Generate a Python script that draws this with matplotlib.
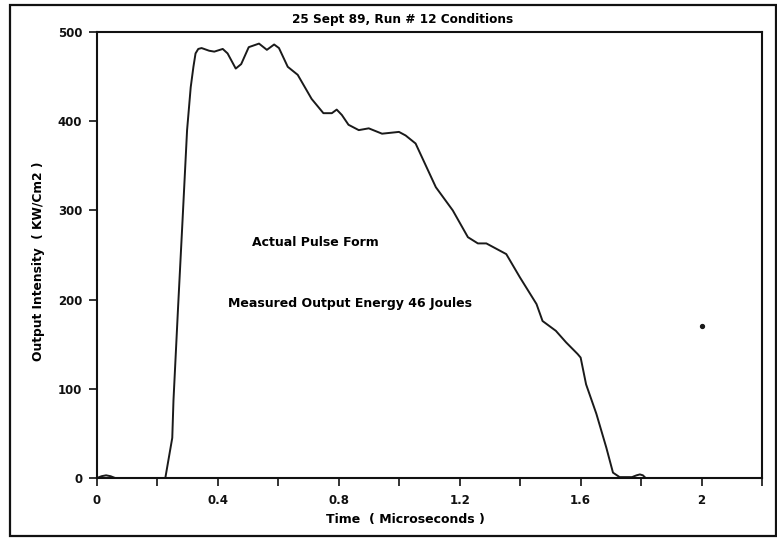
import matplotlib
matplotlib.use("Agg")
import matplotlib.pyplot as plt
from matplotlib.patches import Rectangle

plt.rcParams['font.family'] = ['DejaVu Sans']
plt.rcParams['font.weight'] = 'bold'

# ---- data ----
time_us = [0.0, 0.015, 0.03, 0.045, 0.06, 0.1, 0.2, 0.226, 0.249, 0.253,
           0.268, 0.283, 0.298, 0.31, 0.319, 0.326, 0.335, 0.346, 0.371, 0.388,
           0.416, 0.432, 0.459, 0.477, 0.502, 0.536, 0.562, 0.586, 0.602, 0.631,
           0.664, 0.71, 0.749, 0.777, 0.793, 0.81, 0.832, 0.866, 0.899, 0.943,
           0.999, 1.021, 1.054, 1.121, 1.177, 1.227, 1.26, 1.288, 1.354, 1.399,
           1.454, 1.474, 1.518, 1.552, 1.59, 1.6, 1.618, 1.652, 1.685, 1.707,
           1.729, 1.77, 1.785, 1.796, 1.806, 1.815, 1.827]
intensity = [0, 2, 3, 2, 0, 0, 0, 0, 45, 87,
             190, 289, 390, 438, 461, 476, 481, 482, 479, 478,
             481, 476, 459, 464, 483, 487, 480, 486, 482, 461,
             452, 425, 409, 409, 413, 407, 396, 390, 392, 386,
             388, 384, 375, 326, 300, 270, 263, 263, 251, 225,
             195, 176, 165, 152, 139, 135, 105, 72, 34, 6,
             1, 1, 3, 4, 3, 0, 0]
stray_point_t = [2.0]
stray_point_v = [170]

x_ticks = [0, 0.2, 0.4, 0.6, 0.8, 1.0, 1.2, 1.4, 1.6, 1.8, 2.0, 2.2]
x_tick_labels = ['0', '', '0.4', '', '0.8', '', '1.2', '', '1.6', '', '2', '']
y_ticks = [0, 100, 200, 300, 400, 500]
y_tick_labels = ['0', '100', '200', '300', '400', '500']

title = '25 Sept 89, Run # 12 Conditions'
x_label = 'Time  ( Microseconds )'
y_label = 'Output Intensity  ( KW/Cm2 )'
note1 = 'Actual Pulse Form'
note2 = 'Measured Output Energy 46 Joules'

# ---- figure ----
W, H = 777, 538
fig = plt.figure(figsize=(W / 100, H / 100), dpi=100)
fig.patch.set_facecolor('white')

def fx(px):
    return px / W

def fy(py):
    return 1 - py / H

ax = fig.add_axes([fx(97), fy(478), fx(762) - fx(97), fy(32) - fy(478)])
ax.plot(time_us, intensity, color='#1a1a1a', lw=1.4)
ax.plot(stray_point_t, stray_point_v, 'o', color='#1a1a1a', ms=2.8)

ax.set_xlim(0, 2.2)
ax.set_ylim(0, 500)
ax.set_xticks(x_ticks)
ax.set_xticklabels(x_tick_labels)
ax.set_yticks(y_ticks)
ax.set_yticklabels(y_tick_labels)
ax.tick_params(direction='out', length=5.5, width=1.2, labelsize=8.5, colors='#111111')
ax.tick_params(axis='x', pad=6)
ax.tick_params(axis='y', pad=5)
for lab in ax.get_xticklabels() + ax.get_yticklabels():
    lab.set_fontweight('bold')
for sp in ax.spines.values():
    sp.set_linewidth(1.5)
    sp.set_color('#111111')

fig.text(fx(403), fy(19), title, ha='center', va='center', fontsize=8.7, fontweight='bold')
fig.text(fx(405), fy(519), x_label, ha='center', va='center', fontsize=9, fontweight='bold')
fig.text(fx(39), fy(261), y_label, ha='center', va='center', rotation=90, fontsize=8.8,
         fontweight='bold')
fig.text(fx(252), fy(243), note1, ha='left', va='center', fontsize=9, fontweight='bold')
fig.text(fx(472), fy(303), note2, ha='right', va='center', fontsize=9, fontweight='bold')

frame = Rectangle((fx(10), fy(536)), fx(776) - fx(10), fy(5) - fy(536),
                  transform=fig.transFigure, fill=False, lw=1.6, edgecolor='#111111')
fig.patches.append(frame)

fig.savefig('out.png', dpi=100, facecolor='white')
